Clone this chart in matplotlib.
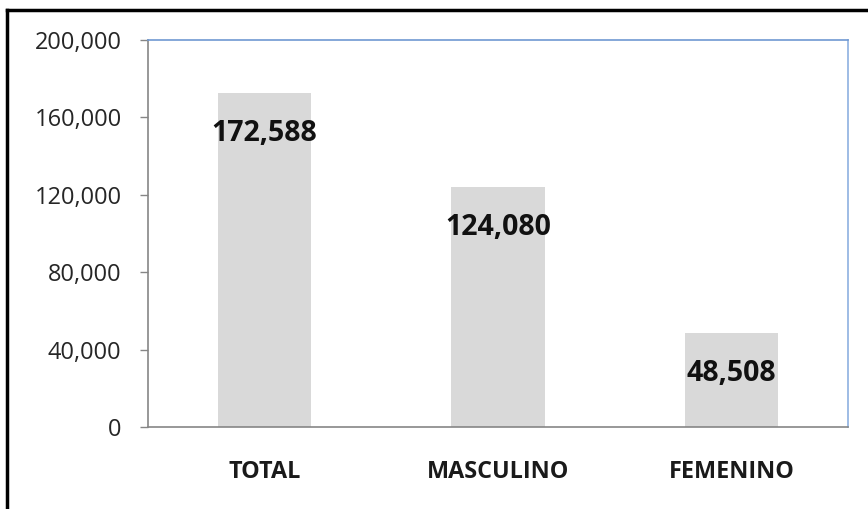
import matplotlib
matplotlib.use("Agg")
import matplotlib.pyplot as plt
from matplotlib.lines import Line2D
from matplotlib.ticker import FuncFormatter

categories = ["TOTAL", "MASCULINO", "FEMENINO"]
values = [172588, 124080, 48508]
yticks = [0, 40000, 80000, 120000, 160000, 200000]

plt.rcParams['font.family'] = ['Open Sans', 'DejaVu Sans']

fig = plt.figure(figsize=(8.68, 5.09), dpi=100)
ax = fig.add_axes([148/868, 1-427/509, 700/868, 387/509])

x = list(range(len(categories)))
bars = ax.bar(x, values, width=0.4, color="#D9D9D9", zorder=2)
ax.set_xlim(-0.5, 2.5)
ax.set_ylim(0, 200000)
ax.set_yticks(yticks)
ax.yaxis.set_major_formatter(FuncFormatter(lambda v, p: f"{int(v):,}"))
ax.set_xticks(x)
ax.set_xticklabels(categories, fontsize=16.8, fontweight="bold", color="#1a1a1a")
ax.tick_params(axis="x", length=0, pad=24)
ax.tick_params(axis="y", length=6, width=1, color="#868686", pad=13,
               labelsize=17, labelcolor="#262626")

for s in ["left", "bottom"]:
    ax.spines[s].set_color("#868686")
    ax.spines[s].set_linewidth(1.2)
ax.spines["top"].set_color("#6F98D2")
ax.spines["right"].set_color("#8DB0E0")
for s in ["top", "right"]:
    ax.spines[s].set_linewidth(1.2)

for b, v in zip(bars, values):
    ax.annotate(f"{v:,}", xy=(b.get_x() + b.get_width()/2, v),
                xytext=(0, -29), textcoords="offset points",
                ha="center", va="center", fontsize=20.5, fontweight="bold",
                color="#111111", zorder=3)

# outer border (left and top visible)
fig.add_artist(Line2D([6.5/868, 6.5/868], [0, 1-10/509], transform=fig.transFigure,
                      color="black", linewidth=2.5, solid_capstyle="projecting"))
fig.add_artist(Line2D([6.5/868, 1], [1-10/509, 1-10/509], transform=fig.transFigure,
                      color="black", linewidth=2.5, solid_capstyle="projecting"))

fig.savefig("out.png", dpi=100)
